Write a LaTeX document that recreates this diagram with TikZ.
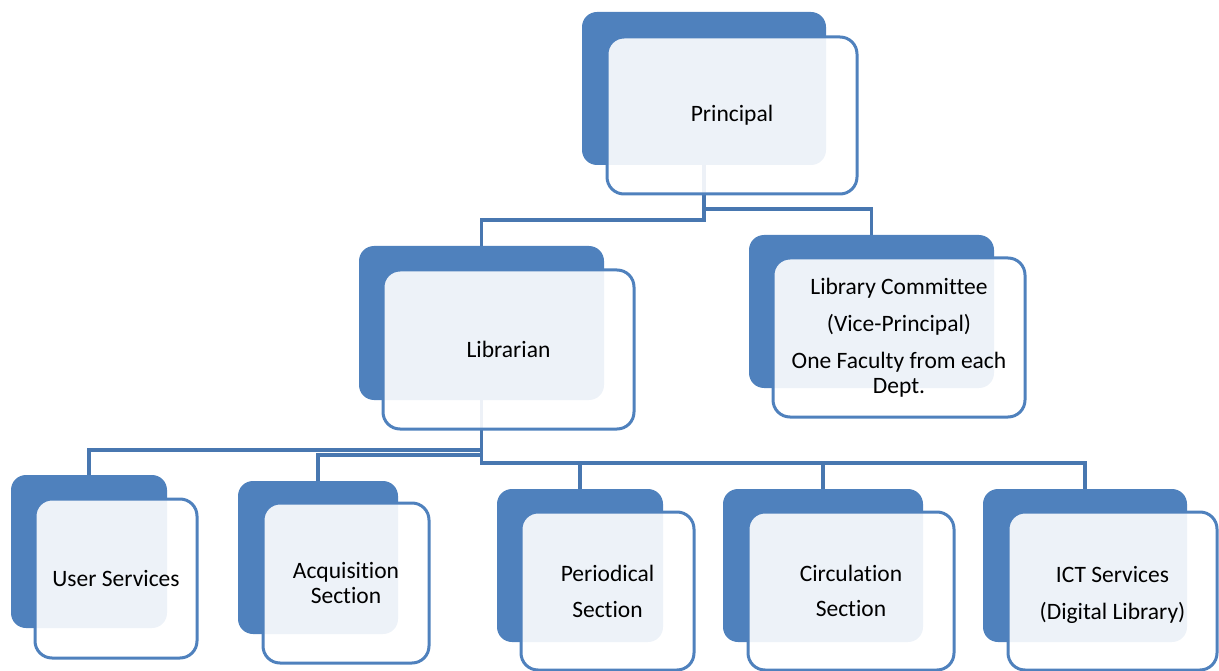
\documentclass[tikz,border=0pt]{standalone}
\usepackage{fontspec}
\setmainfont[RawFeature={-liga;-clig;-dlig;-calt}]{Carlito}
\pgfdeclarelayer{bg}
\pgfsetlayers{bg,main}
\definecolor{cblue}{HTML}{4F81BD}
\definecolor{cline}{HTML}{4877B0}
\begin{document}
\begin{tikzpicture}[x=1pt,y=-1pt,
  backbox/.style={fill=cblue, rounded corners=15pt, inner sep=0pt},
  frontbox/.style={draw=cblue, line width=3pt, fill=white, fill opacity=0.9, text opacity=1,
     rounded corners=17pt, inner sep=0pt, align=center, font=\fontsize{23.5}{25}\selectfont},
  conn/.style={draw=cline, line width=3.2pt}]
\useasboundingbox (0,0) rectangle (1219,671);
% back boxes
\node[backbox, minimum width=244pt, minimum height=153pt] (pb) at (704,88.5) {};
\node[backbox, minimum width=245pt, minimum height=154pt] (lb) at (481.5,323) {};
\node[backbox, minimum width=245pt, minimum height=153pt] (cb) at (871.5,311.5) {};
\node[backbox, minimum width=156pt, minimum height=153pt] (ub) at (89,551.5) {};
\node[backbox, minimum width=160pt, minimum height=153pt] (ab) at (318,557.5) {};
\node[backbox, minimum width=166pt, minimum height=153pt] (perb) at (580,565.5) {};
\node[backbox, minimum width=200pt, minimum height=153pt] (circb) at (823,565.5) {};
\node[backbox, minimum width=204pt, minimum height=153pt] (ictb) at (1085,565.5) {};
% front boxes
\node[frontbox, minimum width=250pt, minimum height=157pt] (pf) at (732,115.5) {Principal};
\node[frontbox, minimum width=251pt, minimum height=159pt] (lf) at (508.5,349.5) {Librarian};
\node[frontbox, minimum width=252pt, minimum height=159pt] (cf) at (899,337.5)
  {Library Committee\\[12pt](Vice-Principal)\\[12pt]One Faculty from each\\Dept.};
\node[frontbox, minimum width=162pt, minimum height=159pt] (uf) at (116,578.5) {User Services};
\node[frontbox, minimum width=166pt, minimum height=160pt] (af) at (346,583) {Acquisition\\Section};
\node[frontbox, minimum width=173pt, minimum height=158pt] (perf) at (607.5,591) {Periodical\\[11pt]Section};
\node[frontbox, minimum width=206pt, minimum height=158pt] (circf) at (851,591) {Circulation\\[10pt]Section};
\node[frontbox, minimum width=209pt, minimum height=158pt] (ictf) at (1112.5,591) {\rule{0pt}{24pt}ICT Services\\[12pt](Digital Library)};
% connectors
\begin{pgfonlayer}{bg}
\draw[conn] (pb.center) -- (pb.center |- 0,220) -| (lb.north);
\draw[conn] (pb.center) -- (pb.center |- 0,209) -| (cb.north);
\draw[conn] (lb.center) -- (lb.center |- 0,450) -| (ub.north);
\draw[conn] (lb.center) -- (lb.center |- 0,455) -| (ab.north);
\draw[conn] (lb.center) -- (lb.center |- 0,463) -| (perb.north);
\draw[conn] (lb.center |- 0,463) -| (circb.north);
\draw[conn] (lb.center |- 0,463) -| (ictb.north);
\end{pgfonlayer}
\end{tikzpicture}
\end{document}
